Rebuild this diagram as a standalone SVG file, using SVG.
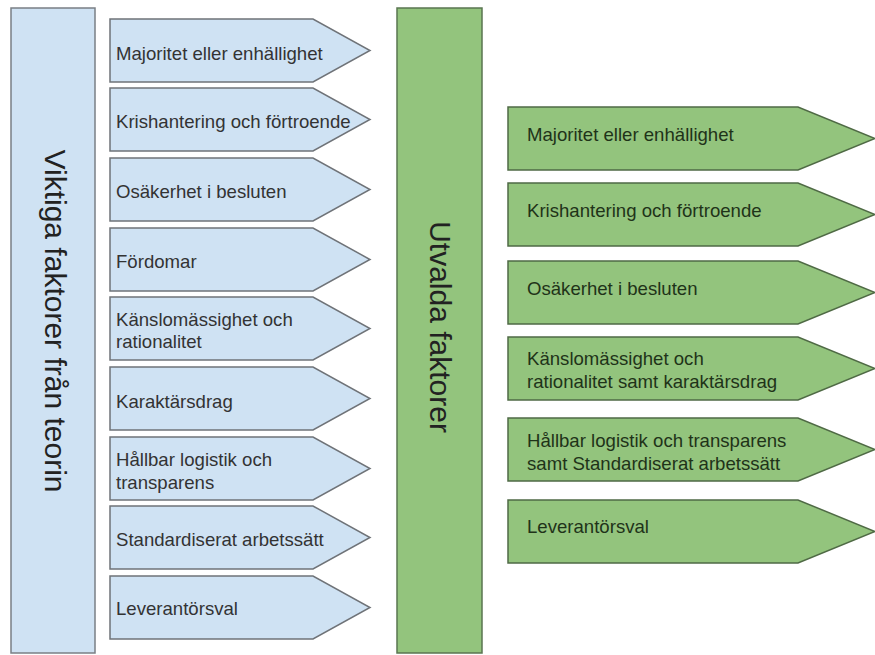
<svg xmlns="http://www.w3.org/2000/svg" width="875" height="655" viewBox="0 0 875 655">
<style>
.bg{fill:#ffffff}
.bbar{fill:#cfe2f3;stroke:#7a7f85;stroke-width:1.5}
.gbar{fill:#93c47d;stroke:#5a7550;stroke-width:1.5}
.barr{fill:#cfe2f3;stroke:#6f7378;stroke-width:1.5}
.garr{fill:#93c47d;stroke:#4f6a45;stroke-width:1.5}
.t{font-family:"Liberation Sans",Arial,sans-serif;font-size:18.6px}
.bt{fill:#333333}
.gt{fill:#1f3319}
.vt{font-family:"Liberation Sans",Arial,sans-serif;font-size:30px;fill:#222222;text-anchor:middle}
</style>
<defs>
<polygon id="ba" points="0,0 203,0 260,31.5 203,63 0,63"/>
<polygon id="ga" points="0,0 290,0 367,31.5 290,63 0,63"/>
</defs>
<rect class="bg" x="0" y="0" width="875" height="655"/>
<g id="connectors"></g>
<g id="left-column">
<rect class="bbar" x="11" y="8" width="84" height="645"/>
<text class="vt" transform="translate(45,321) rotate(90)">Viktiga faktorer från teorin</text>
</g>
<g id="b1"><use href="#ba" class="barr" x="110" y="19"/><text class="t bt" x="116" y="60">Majoritet eller enhällighet</text></g>
<g id="b2"><use href="#ba" class="barr" x="110" y="88"/><text class="t bt" x="116" y="128">Krishantering och förtroende</text></g>
<g id="b3"><use href="#ba" class="barr" x="110" y="158"/><text class="t bt" x="116" y="198">Osäkerhet i besluten</text></g>
<g id="b4"><use href="#ba" class="barr" x="110" y="228"/><text class="t bt" x="116" y="268">Fördomar</text></g>
<g id="b5"><use href="#ba" class="barr" x="110" y="297"/><text class="t bt" x="116" y="326">Känslomässighet och</text><text class="t bt" x="116" y="348">rationalitet</text></g>
<g id="b6"><use href="#ba" class="barr" x="110" y="367"/><text class="t bt" x="116" y="408">Karaktärsdrag</text></g>
<g id="b7"><use href="#ba" class="barr" x="110" y="437"/><text class="t bt" x="116" y="466">Hållbar logistik och</text><text class="t bt" x="116" y="489">transparens</text></g>
<g id="b8"><use href="#ba" class="barr" x="110" y="506"/><text class="t bt" x="116" y="546">Standardiserat arbetssätt</text></g>
<g id="b9"><use href="#ba" class="barr" x="110" y="576"/><text class="t bt" x="116" y="615">Leverantörsval</text></g>
<g id="right-column">
<rect class="gbar" x="397" y="8" width="85" height="645"/>
<text class="vt" transform="translate(430,327) rotate(90)">Utvalda faktorer</text>
</g>
<g id="g1"><use href="#ga" class="garr" x="508" y="107"/><text class="t gt" x="527" y="141">Majoritet eller enhällighet</text></g>
<g id="g2"><use href="#ga" class="garr" x="508" y="183"/><text class="t gt" x="527" y="217">Krishantering och förtroende</text></g>
<g id="g3"><use href="#ga" class="garr" x="508" y="261"/><text class="t gt" x="527" y="295">Osäkerhet i besluten</text></g>
<g id="g4"><use href="#ga" class="garr" x="508" y="337"/><text class="t gt" x="527" y="365">Känslomässighet och</text><text class="t gt" x="527" y="388">rationalitet samt karaktärsdrag</text></g>
<g id="g5"><use href="#ga" class="garr" x="508" y="418"/><text class="t gt" x="527" y="447">Hållbar logistik och transparens</text><text class="t gt" x="527" y="470">samt Standardiserat arbetssätt</text></g>
<g id="g6"><use href="#ga" class="garr" x="508" y="500"/><text class="t gt" x="527" y="533">Leverantörsval</text></g>
</svg>
